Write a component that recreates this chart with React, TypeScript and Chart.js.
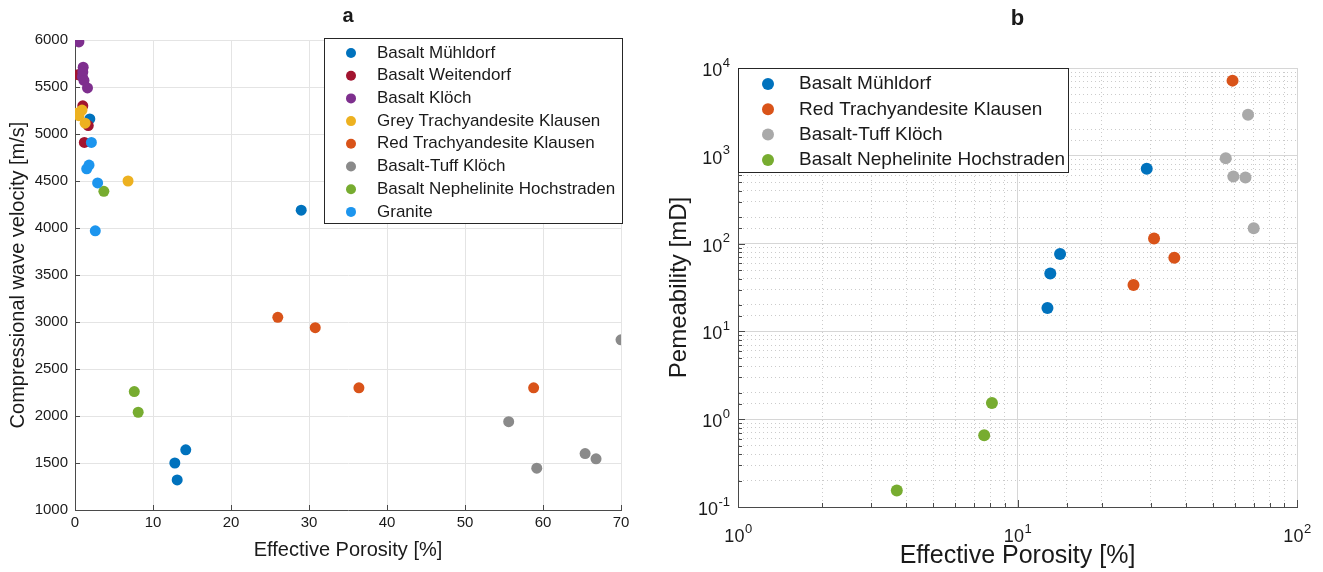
import React, { useEffect, useRef } from 'react';
import { Chart, registerables } from 'chart.js';
Chart.register(...registerables);

const FONT = '"Liberation Sans", Arial, Helvetica, sans-serif';
const TEXT = '#1a1a1a';
const AXIS = '#4a4a4a';

// ---------------- Panel a: Vp vs effective porosity ----------------
const titleA = 'a';
const xTitleA = 'Effective Porosity [%]';
const yTitleA = 'Compressional wave velocity [m/s]';

const namesA = [
  'Basalt Mühldorf',
  'Basalt Weitendorf',
  'Basalt Klöch',
  'Grey Trachyandesite Klausen',
  'Red Trachyandesite Klausen',
  'Basalt-Tuff Klöch',
  'Basalt Nephelinite Hochstraden',
  'Granite',
];
const colorsA = ['#0072BD', '#A2142F', '#7E2F8E', '#EDB120', '#D95319', '#8a8a8a', '#77AC30', '#1c95ee'];

const muehldorfPorA = [1.9, 12.8, 13.1, 14.2, 29.0];
const muehldorfVpA = [5160, 1500, 1320, 1640, 4190];
const weitendorfPorA = [0.4, 1.0, 1.7, 1.2];
const weitendorfVpA = [5630, 5300, 5090, 4910];
const kloechPorA = [0.5, 1.05, 1.0, 0.95, 1.15, 1.6];
const kloechVpA = [5980, 5710, 5660, 5610, 5570, 5490];
const greyTrachyPorA = [0.2, 0.5, 0.9, 1.3, 6.8];
const greyTrachyVpA = [5220, 5195, 5255, 5115, 4500];
const redTrachyPorA = [26.0, 30.8, 36.4, 58.8];
const redTrachyVpA = [3050, 2940, 2300, 2300];
const tuffPorA = [55.6, 59.2, 65.4, 66.8, 70.0];
const tuffVpA = [1940, 1445, 1600, 1545, 2810];
const nephPorA = [3.7, 7.6, 8.1];
const nephVpA = [4390, 2260, 2040];
const granitePorA = [2.1, 1.5, 1.8, 2.9, 2.6];
const graniteVpA = [4910, 4630, 4670, 4480, 3970];

const porA = [muehldorfPorA, weitendorfPorA, kloechPorA, greyTrachyPorA, redTrachyPorA, tuffPorA, nephPorA, granitePorA];
const vpA = [muehldorfVpA, weitendorfVpA, kloechVpA, greyTrachyVpA, redTrachyVpA, tuffVpA, nephVpA, graniteVpA];

const xMinA = 0, xMaxA = 70, xStepA = 10;
const yMinA = 1000, yMaxA = 6000, yStepA = 500;

// ---------------- Panel b: permeability vs effective porosity ----------------
const titleB = 'b';
const xTitleB = 'Effective Porosity [%]';
const yTitleB = 'Pemeability [mD]';

const namesB = ['Basalt Mühldorf', 'Red Trachyandesite Klausen', 'Basalt-Tuff Klöch', 'Basalt Nephelinite Hochstraden'];
const colorsB = ['#0072BD', '#D95319', '#a9a9a9', '#77AC30'];

const muehldorfPorB = [12.8, 13.1, 14.2, 29.0];
const muehldorfPermB = [18.5, 45.7, 76, 711];
const redTrachyPorB = [26.0, 30.8, 36.4, 58.8];
const redTrachyPermB = [33.7, 114, 69, 7180];
const tuffPorB = [55.6, 59.2, 65.4, 66.8, 70.0];
const tuffPermB = [940, 581, 566, 2940, 150];
const nephPorB = [3.7, 7.6, 8.1];
const nephPermB = [0.154, 0.657, 1.53];

const porB = [muehldorfPorB, redTrachyPorB, tuffPorB, nephPorB];
const permB = [muehldorfPermB, redTrachyPermB, tuffPermB, nephPermB];

const xMinB = 1, xMaxB = 100;
const yMinB = 0.1, yMaxB = 10000;

// ---------------- helpers ----------------
const isPow10 = (v: number) => {
  if (!(v > 0)) return false;
  const l = Math.log10(v);
  return Math.abs(l - Math.round(l)) < 1e-9;
};

function makeDatasets(names: string[], colors: string[], xs: number[][], ys: number[][], radius: number) {
  return names.map((label, i) => ({
    label,
    data: xs[i].map((x, j) => ({ x, y: ys[i][j] })),
    backgroundColor: colors[i],
    borderColor: colors[i],
    borderWidth: 0,
    pointRadius: radius,
    pointHoverRadius: radius,
    showLine: false,
    order: names.length - i,
  }));
}

function legendPlugin(cfg: { x: number; y: number; w: number; h: number; y0: number; gap: number; markerX: number; textX: number; radius: number; font: string }) {
  return {
    id: 'boxLegend',
    afterDraw(chart: any) {
      const { ctx } = chart;
      ctx.save();
      ctx.fillStyle = '#ffffff';
      ctx.fillRect(cfg.x, cfg.y, cfg.w, cfg.h);
      ctx.strokeStyle = '#262626';
      ctx.lineWidth = 1;
      ctx.strokeRect(cfg.x + 0.5, cfg.y + 0.5, cfg.w, cfg.h);
      chart.data.datasets.forEach((ds: any, i: number) => {
        const y = cfg.y0 + i * cfg.gap;
        ctx.beginPath();
        ctx.arc(cfg.markerX, y, cfg.radius, 0, Math.PI * 2);
        ctx.fillStyle = ds.backgroundColor;
        ctx.fill();
        ctx.fillStyle = TEXT;
        ctx.font = cfg.font;
        ctx.textBaseline = 'middle';
        ctx.textAlign = 'left';
        ctx.fillText(ds.label, cfg.textX, y);
      });
      ctx.restore();
    },
  };
}

function inTicksPlugin(major: number, minor: number) {
  return {
    id: 'inTicks',
    beforeDatasetsDraw(chart: any) {
      const { ctx, chartArea, scales } = chart;
      ctx.save();
      ctx.strokeStyle = AXIS;
      ctx.lineWidth = 1;
      ctx.beginPath();
      scales.x.ticks.forEach((t: any) => {
        const len = isPow10(t.value) || scales.x.type !== 'logarithmic' ? major : minor;
        const px = Math.round(scales.x.getPixelForValue(t.value)) + 0.5;
        ctx.moveTo(px, chartArea.bottom);
        ctx.lineTo(px, chartArea.bottom - len);
      });
      scales.y.ticks.forEach((t: any) => {
        const len = isPow10(t.value) || scales.y.type !== 'logarithmic' ? major : minor;
        const py = Math.round(scales.y.getPixelForValue(t.value)) + 0.5;
        ctx.moveTo(chartArea.left, py);
        ctx.lineTo(chartArea.left + len, py);
      });
      ctx.stroke();
      ctx.restore();
    },
  };
}

// Power-of-ten tick labels with a real superscript exponent ("10" + raised exponent)
function powerLabelsPlugin(baseSize: number, expSize: number) {
  return {
    id: 'powerLabels',
    afterDraw(chart: any) {
      const { ctx, chartArea, scales } = chart;
      const baseFont = `${baseSize}px ${FONT}`;
      const expFont = `${expSize}px ${FONT}`;
      ctx.save();
      ctx.fillStyle = TEXT;
      ctx.textBaseline = 'middle';
      ctx.textAlign = 'left';
      const measure = (exp: string) => {
        ctx.font = baseFont;
        const bw = ctx.measureText('10').width;
        ctx.font = expFont;
        const ew = ctx.measureText(exp).width;
        return { bw, ew };
      };
      const draw = (exp: string, xLeft: number, yBase: number, yExp: number, bw: number) => {
        ctx.font = baseFont;
        ctx.fillText('10', xLeft, yBase);
        ctx.font = expFont;
        ctx.fillText(exp, xLeft + bw + 0.5, yExp);
      };
      scales.y.ticks.forEach((t: any) => {
        if (!isPow10(t.value)) return;
        const exp = String(Math.round(Math.log10(t.value)));
        const { bw, ew } = measure(exp);
        const py = scales.y.getPixelForValue(t.value);
        const right = chartArea.left - 8;
        draw(exp, right - bw - ew - 0.5, py + 3, py - 5, bw);
      });
      scales.x.ticks.forEach((t: any) => {
        if (!isPow10(t.value)) return;
        const exp = String(Math.round(Math.log10(t.value)));
        const { bw, ew } = measure(exp);
        const px = scales.x.getPixelForValue(t.value);
        const left = px - (bw + ew) / 2;
        draw(exp, left, chartArea.bottom + 30, chartArea.bottom + 22, bw);
      });
      ctx.restore();
    },
  };
}

export default function App() {
  const refA = useRef<HTMLCanvasElement | null>(null);
  const refB = useRef<HTMLCanvasElement | null>(null);

  useEffect(() => {
    if (!refA.current || !refB.current) return;

    const chartA = new Chart(refA.current, {
      type: 'scatter',
      data: { datasets: makeDatasets(namesA, colorsA, porA, vpA, 5.5) as any },
      options: {
        responsive: false,
        animation: false,
        events: [],
        layout: { padding: { left: 0, right: 39, top: 0, bottom: 0 } },
        plugins: {
          legend: { display: false },
          tooltip: { enabled: false },
          title: {
            display: true,
            text: titleA,
            fullSize: false,
            color: TEXT,
            font: { family: FONT, size: 20, weight: 'bold' },
            padding: { top: 4, bottom: 12 },
          },
        },
        scales: {
          x: {
            type: 'linear',
            min: xMinA,
            max: xMaxA,
            afterFit: (s: any) => { s.height = 62; },
            ticks: { stepSize: xStepA, color: TEXT, font: { family: FONT, size: 15 }, padding: 4, maxRotation: 0, callback: (v: any) => String(v) },
            grid: { color: '#e4e4e4', lineWidth: 1, drawTicks: false },
            border: { display: true, color: AXIS, width: 1 },
            title: { display: true, text: xTitleA, color: TEXT, font: { family: FONT, size: 20 }, padding: { top: 0, bottom: 10 } },
          },
          y: {
            type: 'linear',
            min: yMinA,
            max: yMaxA,
            afterFit: (s: any) => { s.width = 75; },
            ticks: { stepSize: yStepA, color: TEXT, font: { family: FONT, size: 15 }, padding: 7, callback: (v: any) => String(v) },
            grid: { color: '#e4e4e4', lineWidth: 1, drawTicks: false },
            border: { display: true, color: AXIS, width: 1 },
            title: { display: true, text: yTitleA, color: TEXT, font: { family: FONT, size: 20 }, padding: { top: 6, bottom: 0 } },
          },
        },
      } as any,
      plugins: [
        inTicksPlugin(5, 3),
        legendPlugin({ x: 324, y: 38, w: 298, h: 185, y0: 53, gap: 22.7, markerX: 351, textX: 377, radius: 5, font: `17px ${FONT}` }),
      ] as any,
    });

    const gridColor = (c: any) => (c.tick && isPow10(c.tick.value) ? '#d6d6d6' : '#cbcbcb');
    const gridDash = (c: any) => (c.tick && !isPow10(c.tick.value) ? [1, 3] : []);

    const chartB = new Chart(refB.current, {
      type: 'scatter',
      data: { datasets: makeDatasets(namesB, colorsB, porB, permB, 6) as any },
      options: {
        responsive: false,
        animation: false,
        events: [],
        layout: { padding: { left: 0, right: 26, top: 0, bottom: 0 } },
        plugins: {
          legend: { display: false },
          tooltip: { enabled: false },
          title: {
            display: true,
            text: titleB,
            fullSize: false,
            color: TEXT,
            font: { family: FONT, size: 22, weight: 'bold' },
            padding: { top: 6, bottom: 35.6 },
          },
        },
        scales: {
          x: {
            type: 'logarithmic',
            min: xMinB,
            max: xMaxB,
            afterFit: (s: any) => { s.height = 65; },
            ticks: { display: false, autoSkip: false },
            grid: { lineWidth: 1, drawTicks: false, color: gridColor },
            border: { display: true, color: AXIS, width: 1, dash: gridDash },
            title: { display: true, text: xTitleB, color: TEXT, font: { family: FONT, size: 25 }, padding: { top: 0, bottom: 1 } },
          },
          y: {
            type: 'logarithmic',
            min: yMinB,
            max: yMaxB,
            afterFit: (s: any) => { s.width = 78; },
            ticks: { display: false, autoSkip: false },
            grid: { lineWidth: 1, drawTicks: false, color: gridColor },
            border: { display: true, color: AXIS, width: 1, dash: gridDash },
            title: { display: true, text: yTitleB, color: TEXT, font: { family: FONT, size: 24 }, padding: { top: 5, bottom: 0 } },
          },
        },
      } as any,
      plugins: [
        inTicksPlugin(7, 4),
        powerLabelsPlugin(18, 13),
        legendPlugin({ x: 78, y: 68, w: 330, h: 104, y0: 84, gap: 25.3, markerX: 108, textX: 139, radius: 6, font: `19px ${FONT}` }),
      ] as any,
    });

    return () => {
      chartA.destroy();
      chartB.destroy();
    };
  }, []);

  return (
    <div style={{ position: 'absolute', left: 0, top: 0, width: 1323, height: 572, background: '#ffffff', overflow: 'hidden' }}>
      <canvas ref={refA} width={660} height={572} style={{ position: 'absolute', left: 0, top: 0, display: 'block' }} />
      <canvas ref={refB} width={663} height={572} style={{ position: 'absolute', left: 660, top: 0, display: 'block' }} />
    </div>
  );
}
